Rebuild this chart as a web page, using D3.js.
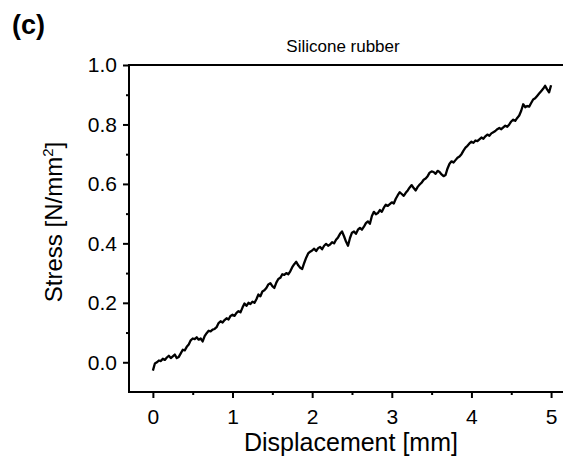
<!DOCTYPE html>
<html>
<head>
<meta charset="utf-8">
<script src="https://cdn.jsdelivr.net/npm/d3@7"></script>
<style>
  html, body { margin: 0; padding: 0; background: #fff; }
  svg { display: block; font-family: "Liberation Sans", Arial, sans-serif; }
</style>
</head>
<body>
<svg id="chart" width="563" height="461"></svg>
<script>
// Stress–displacement record for the silicone rubber sample
const sampleStep = 0.025; // mm between recorded samples
const stress = [
  -0.028, -0.004, 0.000, 0.006, 0.004, 0.012, 0.008, 0.016, 0.022, 0.014,
  0.020, 0.026, 0.014, 0.018, 0.030, 0.042, 0.040, 0.052, 0.060, 0.074,
  0.080, 0.078, 0.084, 0.076, 0.080, 0.070, 0.088, 0.098, 0.106, 0.104,
  0.110, 0.112, 0.118, 0.132, 0.138, 0.134, 0.142, 0.148, 0.144, 0.156,
  0.160, 0.156, 0.166, 0.172, 0.168, 0.184, 0.198, 0.190, 0.200, 0.196,
  0.204, 0.200, 0.212, 0.228, 0.222, 0.238, 0.242, 0.250, 0.262, 0.266,
  0.256, 0.250, 0.268, 0.280, 0.284, 0.296, 0.294, 0.300, 0.296, 0.306,
  0.320, 0.330, 0.338, 0.326, 0.318, 0.314, 0.334, 0.352, 0.366, 0.372,
  0.376, 0.382, 0.374, 0.384, 0.388, 0.380, 0.392, 0.398, 0.392, 0.396,
  0.404, 0.400, 0.412, 0.420, 0.432, 0.440, 0.424, 0.406, 0.392, 0.418,
  0.436, 0.440, 0.432, 0.446, 0.452, 0.446, 0.456, 0.468, 0.474, 0.466,
  0.492, 0.506, 0.498, 0.502, 0.512, 0.506, 0.520, 0.530, 0.526, 0.532,
  0.538, 0.534, 0.550, 0.562, 0.572, 0.566, 0.560, 0.570, 0.578, 0.588,
  0.596, 0.586, 0.578, 0.590, 0.598, 0.604, 0.614, 0.618, 0.626, 0.638,
  0.642, 0.640, 0.634, 0.644, 0.640, 0.632, 0.626, 0.630, 0.652, 0.668,
  0.676, 0.672, 0.680, 0.688, 0.692, 0.700, 0.712, 0.722, 0.728, 0.736,
  0.742, 0.738, 0.746, 0.744, 0.750, 0.756, 0.752, 0.760, 0.766, 0.762,
  0.770, 0.774, 0.778, 0.784, 0.788, 0.784, 0.790, 0.796, 0.792, 0.800,
  0.810, 0.816, 0.812, 0.822, 0.830, 0.846, 0.868, 0.858, 0.862, 0.860,
  0.872, 0.884, 0.888, 0.896, 0.904, 0.912, 0.920, 0.930, 0.918, 0.908,
  0.932
];
const xMajorTicks = [0, 1, 2, 3, 4, 5];
const xMinorTicks = [0.5, 1.5, 2.5, 3.5, 4.5];
const yMajorTicks = [0.0, 0.2, 0.4, 0.6, 0.8, 1.0];
const yMinorTicks = [0.1, 0.3, 0.5, 0.7, 0.9];

const panelLabel = "(c)";
const title = "Silicone rubber";
const xTitle = "Displacement [mm]";

const svg = d3.select("#chart");
const plotLeft = 129, plotTop = 65, plotRight = 567, plotBottom = 392;

const x = d3.scaleLinear().domain([-0.3, 5.2]).range([plotLeft, plotRight]);
const y = d3.scaleLinear().domain([-0.1, 1.0]).range([plotBottom, plotTop]);

const points = stress.map((s, i) => [i * sampleStep, s]);

// data trace
svg.append("path")
  .datum(points)
  .attr("fill", "none")
  .attr("stroke", "#000")
  .attr("stroke-width", 2.3)
  .attr("stroke-linejoin", "round")
  .attr("d", d3.line().x(d => x(d[0])).y(d => y(d[1])));

// frame
svg.append("rect")
  .attr("x", plotLeft).attr("y", plotTop)
  .attr("width", plotRight - plotLeft).attr("height", plotBottom - plotTop)
  .attr("fill", "none").attr("stroke", "#000").attr("stroke-width", 2);

const tickFont = "Liberation Sans, Arial, sans-serif";

// bottom axis
const xAxis = svg.append("g").attr("transform", `translate(0,${plotBottom})`)
  .call(d3.axisBottom(x).tickValues(xMajorTicks).tickFormat(d3.format("d"))
    .tickSize(6).tickPadding(11));
xAxis.select(".domain").remove();
xAxis.selectAll("line").attr("stroke-width", 2);
xAxis.selectAll("text").attr("font-size", 21).attr("fill", "#000")
  .attr("font-family", tickFont);
svg.append("g").attr("transform", `translate(0,${plotBottom})`)
  .call(d3.axisBottom(x).tickValues(xMinorTicks).tickSize(3).tickFormat(""))
  .call(g => g.select(".domain").remove())
  .selectAll("line").attr("stroke-width", 2);

// left axis
const yAxis = svg.append("g").attr("transform", `translate(${plotLeft},0)`)
  .call(d3.axisLeft(y).tickValues(yMajorTicks).tickFormat(d3.format(".1f"))
    .tickSize(6).tickPadding(6));
yAxis.select(".domain").remove();
yAxis.selectAll("line").attr("stroke-width", 2);
yAxis.selectAll("text").attr("font-size", 21).attr("fill", "#000")
  .attr("font-family", tickFont);
svg.append("g").attr("transform", `translate(${plotLeft},0)`)
  .call(d3.axisLeft(y).tickValues(yMinorTicks).tickSize(3).tickFormat(""))
  .call(g => g.select(".domain").remove())
  .selectAll("line").attr("stroke-width", 2);

// titles
svg.append("text").attr("x", 12).attr("y", 34)
  .attr("font-size", 27).attr("font-weight", "bold").text(panelLabel);

svg.append("text").attr("x", 343).attr("y", 52)
  .attr("text-anchor", "middle").attr("font-size", 17).text(title);

svg.append("text").attr("x", 351).attr("y", 451)
  .attr("text-anchor", "middle").attr("font-size", 25).text(xTitle);

const yTitle = svg.append("text")
  .attr("transform", "translate(62,222) rotate(-90)")
  .attr("text-anchor", "middle").attr("font-size", 24);
yTitle.append("tspan").text("Stress [N/mm");
yTitle.append("tspan").attr("font-size", 15).attr("dy", -9).text("2");
yTitle.append("tspan").attr("dy", 9).text("]");
</script>
</body>
</html>
